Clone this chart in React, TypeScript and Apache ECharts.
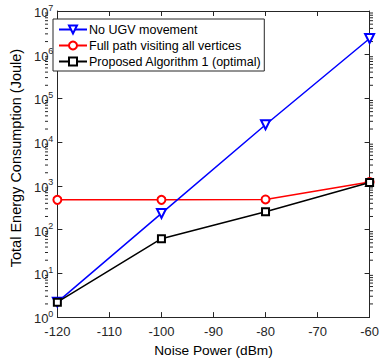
import React, { useEffect, useRef } from "react";
import * as echarts from "echarts";

const xValues = [-120, -100, -80, -60];
const noMovement = [2.2, 235, 25000, 2350000];
const fullPath = [480, 480, 490, 1230];
const proposed = [2.2, 62, 257, 1200];
const seriesNames = ["No UGV movement", "Full path visiting all vertices", "Proposed Algorithm 1 (optimal)"];

const FONT = "Liberation Sans, Arial, Helvetica, sans-serif";
const AX = "#262626";
const FS = 12.5;

export default function App() {
  const ref = useRef<HTMLDivElement>(null);
  useEffect(() => {
    if (!ref.current) return;
    const chart = echarts.init(ref.current, null, { renderer: "svg" });
    const pair = (arr: number[]) => xValues.map((x, i) => [x, arr[i]]);
    const grid = { left: 45, right: 9, top: 11, bottom: 40 };
    const yCommon = {
      type: "log" as const,
      logBase: 10,
      min: 1,
      max: 1e7,
      axisLine: { show: true, lineStyle: { color: AX, width: 1 } },
      axisTick: { show: true, inside: true, length: 5, lineStyle: { color: AX } },
      splitLine: { show: false },
    };
    chart.setOption({
      animation: false,
      textStyle: { fontFamily: FONT },
      grid,
      legend: {
        left: 53,
        top: 19,
        orient: "vertical",
        itemGap: 1,
        itemWidth: 28,
        itemHeight: 10,
        padding: [3, 3, 2, 5],
        borderColor: AX,
        borderWidth: 1,
        backgroundColor: "#fff",
        textStyle: { fontFamily: FONT, fontSize: FS, color: "#000", padding: [0, 0, 0, -3], lineHeight: 15 },
        data: seriesNames,
      },
      xAxis: [
        {
          type: "value",
          min: -120,
          max: -60,
          interval: 10,
          name: "Noise Power (dBm)",
          nameLocation: "middle",
          nameGap: 24,
          nameTextStyle: { fontFamily: FONT, fontSize: 13.7, color: "#000" },
          axisLine: { show: true, onZero: false, lineStyle: { color: AX } },
          axisTick: { show: true, inside: true, length: 5, lineStyle: { color: AX } },
          axisLabel: { fontFamily: FONT, fontSize: 13, lineHeight: 13, color: AX, margin: 8 },
          splitLine: { show: false },
        },
        {
          type: "value",
          position: "top",
          min: -120,
          max: -60,
          interval: 10,
          axisLine: { show: true, onZero: false, lineStyle: { color: AX } },
          axisTick: { show: true, inside: true, length: 5, lineStyle: { color: AX } },
          axisLabel: { show: false },
          splitLine: { show: false },
        },
      ],
      yAxis: [
        {
          ...yCommon,
          name: "Total Energy Consumption (Joule)",
          nameLocation: "middle",
          nameGap: 27,
          nameTextStyle: { fontFamily: FONT, fontSize: 14.5, color: "#000", padding: [0, 0, 0, 12] },
          axisLabel: {
            fontFamily: FONT,
            color: AX,
            margin: 4,
            formatter: (v: number) => `{b|10}{s|${Math.round(Math.log10(v))}}`,
            rich: {
              b: { fontFamily: FONT, fontSize: 13, lineHeight: 13, color: AX, padding: [3, 0, 0, 0] },
              s: { fontFamily: FONT, fontSize: 9, lineHeight: 9, color: AX, padding: [0, 0, 7, 0] },
            },
          },
        },
        {
          ...yCommon,
          position: "right",
          axisLabel: { show: false },
        },
      ],
      series: [
        {
          name: seriesNames[0],
          type: "line",
          data: pair(noMovement),
          color: "#0000ff",
          lineStyle: { width: 1.5, color: "#0000ff" },
          symbol: "emptyTriangle",
          symbolRotate: 180,
          symbolSize: 9,
          itemStyle: { color: "#0000ff", borderWidth: 1.3 },
          z: 3,
        },
        {
          name: seriesNames[1],
          type: "line",
          data: pair(fullPath),
          color: "#ff0000",
          lineStyle: { width: 1.5, color: "#ff0000" },
          symbol: "emptyCircle",
          symbolSize: 8,
          itemStyle: { color: "#ff0000", borderWidth: 1.3 },
          z: 2,
        },
        {
          name: seriesNames[2],
          type: "line",
          data: pair(proposed),
          color: "#000000",
          lineStyle: { width: 1.5, color: "#000000" },
          symbol: "emptyRect",
          symbolSize: 7,
          itemStyle: { color: "#000000", borderWidth: 1.3 },
          z: 4,
        },
      ],
    });

    // minor log ticks on left and right axes
    const gw = chart.getWidth();
    const xl = grid.left;
    const xr = gw - grid.right;
    const minor: any[] = [];
    for (let k = 0; k < 7; k++) {
      for (let m = 2; m <= 9; m++) {
        const v = m * Math.pow(10, k);
        const py = chart.convertToPixel({ yAxisIndex: 0 }, v) as number;
        minor.push({
          type: "line",
          shape: { x1: xl, y1: py, x2: xl + 3, y2: py },
          style: { stroke: AX, lineWidth: 1 },
          silent: true,
        });
        minor.push({
          type: "line",
          shape: { x1: xr, y1: py, x2: xr - 3, y2: py },
          style: { stroke: AX, lineWidth: 1 },
          silent: true,
        });
      }
    }
    chart.setOption({ graphic: minor });
    return () => chart.dispose();
  }, []);
  return <div ref={ref} style={{ width: 382, height: 362, position: "absolute", left: 0, top: 0 }} />;
}
